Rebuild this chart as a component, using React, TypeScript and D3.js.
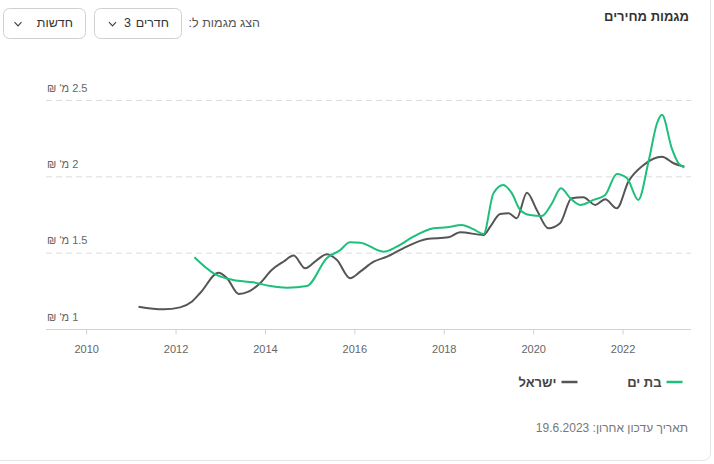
import React from "react";
import * as d3 from "d3";

const X_TICKS = [2010, 2012, 2014, 2016, 2018, 2020, 2022];
const Y_TICKS = [1, 1.5, 2, 2.5];

const ISRAEL_YEARS = [2011.16, 2011.72, 2012.09, 2012.35, 2012.54, 2012.95, 2013.14, 2013.4, 2013.62, 2013.88, 2014.14, 2014.4, 2014.63, 2014.89, 2015.15, 2015.37, 2015.6, 2015.89, 2016.12, 2016.42, 2016.72, 2017.16, 2017.61, 2018.09, 2018.36, 2018.88, 2019.03, 2019.25, 2019.44, 2019.62, 2019.85, 2020.07, 2020.33, 2020.59, 2020.85, 2021.11, 2021.38, 2021.6, 2021.86, 2022.12, 2022.46, 2022.87, 2023.13, 2023.37];
const ISRAEL_VALUES = [1.149, 1.132, 1.145, 1.182, 1.239, 1.372, 1.336, 1.233, 1.248, 1.303, 1.39, 1.444, 1.484, 1.401, 1.455, 1.493, 1.455, 1.336, 1.379, 1.444, 1.477, 1.543, 1.593, 1.604, 1.637, 1.619, 1.674, 1.757, 1.761, 1.729, 1.896, 1.783, 1.663, 1.696, 1.86, 1.866, 1.816, 1.853, 1.794, 1.969, 2.078, 2.132, 2.089, 2.067];

const BATYAM_YEARS = [2012.41, 2012.84, 2013.28, 2013.73, 2014.11, 2014.48, 2014.93, 2015.37, 2015.67, 2015.89, 2016.12, 2016.64, 2016.94, 2017.31, 2017.76, 2018.06, 2018.39, 2018.65, 2018.88, 2019.1, 2019.32, 2019.51, 2019.7, 2019.92, 2020.18, 2020.41, 2020.61, 2020.82, 2021.04, 2021.34, 2021.6, 2021.86, 2022.09, 2022.34, 2022.57, 2022.76, 2022.87, 2023.09, 2023.24, 2023.37];
const BATYAM_VALUES = [1.473, 1.368, 1.324, 1.309, 1.285, 1.274, 1.285, 1.467, 1.52, 1.571, 1.569, 1.51, 1.543, 1.608, 1.663, 1.67, 1.685, 1.657, 1.626, 1.893, 1.947, 1.893, 1.783, 1.75, 1.744, 1.827, 1.925, 1.86, 1.816, 1.849, 1.881, 2.019, 1.991, 1.849, 2.1, 2.351, 2.406, 2.187, 2.089, 2.06];

const SERIES = [
  { name: "בת ים", color: "#1cc07a", years: BATYAM_YEARS, values: BATYAM_VALUES },
  { name: "ישראל", color: "#555555", years: ISRAEL_YEARS, values: ISRAEL_VALUES },
];

const FONT = "'Liberation Sans', Arial, sans-serif";

export default function App() {
  const x = d3.scaleLinear().domain([2009.09, 2023.52]).range([46, 691]);
  const y = d3.scaleLinear().domain([1, 2.5]).range([329.5, 100.5]);
  const line = d3
    .line<[number, number]>()
    .x((d) => x(d[0]))
    .y((d) => y(d[1]))
    .curve(d3.curveMonotoneX);

  const chevron = (cx: number, cy: number) =>
    `M${cx - 3.5},${cy - 1.8} L${cx},${cy + 1.8} L${cx + 3.5},${cy - 1.8}`;

  return (
    <div style={{ position: "absolute", left: 0, top: 0 }}>
      <svg width={714} height={464} style={{ display: "block", fontFamily: FONT }}>
        <rect x={-10} y={-10} width={720.5} height={470.5} rx={7} fill="#fff" stroke="#e4e4e4" />

        {/* header */}
        <text x={689} y={21} direction="rtl" textAnchor="start" fontSize={13} fontWeight="bold" fill="#333">
          מגמות מחירים
        </text>
        <text x={260} y={27} direction="rtl" textAnchor="start" fontSize={12.5} fill="#555">
          הצג מגמות ל:
        </text>
        <rect x={94.5} y={8.5} width={87} height={30} rx={6} fill="#fff" stroke="#d0d0d0" />
        <text x={169} y={27} direction="rtl" textAnchor="start" fontSize={12.5} fill="#333">
          חדרים
        </text>
        <text x={131} y={27} textAnchor="end" fontSize={12.5} fill="#333">
          3
        </text>
        <path d={chevron(112.5, 24)} fill="none" stroke="#444" strokeWidth={1.2} />
        <rect x={3.5} y={8.5} width={82} height={30} rx={6} fill="#fff" stroke="#d0d0d0" />
        <text x={73} y={27} direction="rtl" textAnchor="start" fontSize={12.5} fill="#333">
          חדשות
        </text>
        <path d={chevron(18, 24)} fill="none" stroke="#444" strokeWidth={1.2} />

        {/* grid */}
        {Y_TICKS.filter((t) => t !== 1).map((t) => (
          <line key={t} x1={46} x2={691} y1={y(t)} y2={y(t)} stroke="#dcdcdc" strokeDasharray="6,4" />
        ))}
        {Y_TICKS.map((t) => (
          <text key={"l" + t} x={47} y={y(t) - 9} direction="rtl" textAnchor="end" fontSize={11} fill="#666">
            {`${t} מ' ₪`}
          </text>
        ))}

        {/* x axis */}
        <line x1={46} x2={691} y1={y(1)} y2={y(1)} stroke="#c9d3e3" strokeWidth={1} />
        {X_TICKS.map((t) => (
          <g key={t}>
            <line x1={x(t)} x2={x(t)} y1={y(1)} y2={y(1) + 5} stroke="#c9d3e3" />
            <text x={x(t)} y={353} textAnchor="middle" fontSize={11} fill="#666">
              {t}
            </text>
          </g>
        ))}

        {/* lines */}
        {SERIES.slice()
          .reverse()
          .map((s) => (
            <path
              key={s.name}
              d={line(s.years.map((yr, i) => [yr, s.values[i]] as [number, number])) || ""}
              fill="none"
              stroke={s.color}
              strokeWidth={2}
            />
          ))}

        {/* legend */}
        <line x1={666.5} x2={682.5} y1={382} y2={382} stroke={SERIES[0].color} strokeWidth={2.5} />
        <text x={661.5} y={387} direction="rtl" textAnchor="start" fontSize={13} fontWeight="bold" fill="#444">
          {SERIES[0].name}
        </text>
        <line x1={561.5} x2={577.5} y1={382} y2={382} stroke={SERIES[1].color} strokeWidth={2.5} />
        <text x={556.5} y={387} direction="rtl" textAnchor="start" fontSize={13} fontWeight="bold" fill="#444">
          {SERIES[1].name}
        </text>

        {/* footer */}
        <text x={688} y={432} direction="rtl" textAnchor="start" fontSize={12} fill="#777">
          תאריך עדכון אחרון: 19.6.2023
        </text>
      </svg>
    </div>
  );
}
